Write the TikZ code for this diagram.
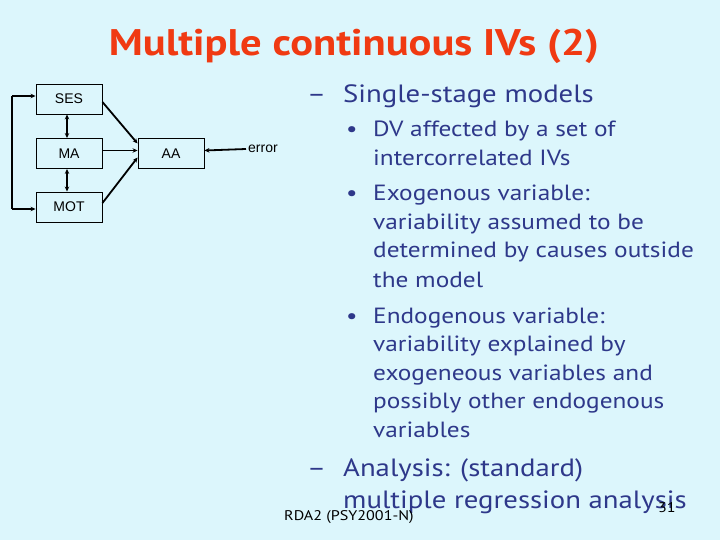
\documentclass[tikz,border=0pt]{standalone}
\usepackage{fontspec}
\setmainfont{PT Sans}[FakeStretch=1.15]
\newfontfamily\arialfont{Liberation Sans}
\usetikzlibrary{arrows.meta}
\definecolor{bgc}{RGB}{220,246,252}
\definecolor{bodyblue}{RGB}{46,56,138}
\definecolor{titlered}{RGB}{240,58,18}
\tikzset{
  varbox/.style={draw=black, line width=0.9pt, fill=bgc, minimum width=66pt, minimum height=30pt, inner sep=0pt, font=\arialfont\fontsize{14}{16}\selectfont},
  conn/.style={line width=1.8pt, -{Stealth[length=5pt,width=4.5pt]}},
  dconn/.style={line width=1.8pt, {Stealth[length=5pt,width=4.5pt]}-{Stealth[length=5pt,width=4.5pt]}},
  lvl1/.style={anchor=base west, inner sep=0pt, text=bodyblue, font=\fontsize{25}{30}\selectfont},
  lvl2/.style={anchor=base west, inner sep=0pt, text=bodyblue, font=\fontsize{22}{26}\selectfont},
  foot/.style={anchor=base west, inner sep=0pt, text=black, font=\fontsize{14}{17}\selectfont}
}
\begin{document}
\begin{tikzpicture}[x=1pt, y=-1pt]
\fill[bgc] (0,0) rectangle (720,540);
\useasboundingbox (0,0) rectangle (720,540);
% title
\node[anchor=base, inner sep=0pt, text=titlered, font=\bfseries\fontsize{37}{40}\selectfont] (title) at (354,56) {Multiple continuous IVs (2)};
% diagram
\node[varbox] (ses) at (69,99) {SES};
\node[varbox] (ma) at (69,153.5) {MA};
\node[varbox] (mot) at (69,207) {MOT};
\node[varbox] (aa) at (171,153.5) {AA};
\node[anchor=west, inner sep=0pt, font=\arialfont\fontsize{14}{16}\selectfont] (err) at (248,149) {error};
\coordinate (lt) at (12,96);
\coordinate (lb) at (12,209);
\draw[conn] (lt) -- (ses.west |- lt);
\draw[conn] (lb) -- (mot.west |- lb);
\draw[line width=1.8pt] (lt) -- (lb);
\draw[dconn] ([xshift=-2pt]ses.south) -- ([xshift=-2pt]ma.north);
\draw[dconn] ([xshift=-2pt]ma.south) -- ([xshift=-2pt]mot.north);
\draw[conn] ([yshift=-3pt]ses.east) -- ([yshift=10pt]aa.west);
\draw[conn] ([yshift=3pt]ma.east) -- ([yshift=3pt]aa.west);
\draw[conn] ([yshift=4pt]mot.east) -- ([yshift=-4pt]aa.west);
\draw[conn] ([xshift=-2pt]err.west) -- ([yshift=3pt]aa.east);
% text
\node[lvl1] (d1) at (307,103) {–};
\node[lvl1] (h1) at (343,103) {Single-stage models};
\node[lvl2] (b1) at (346,137) {•};
\node[lvl2] (t1) at (373,137) {DV affected by a set of};
\node[lvl2] (t2) at (373,166) {intercorrelated IVs};
\node[lvl2] (b2) at (346,201) {•};
\node[lvl2] (t3) at (373,201) {Exogenous variable:};
\node[lvl2] (t4) at (373,229.5) {variability assumed to be};
\node[lvl2] (t5) at (373,258) {determined by causes outside};
\node[lvl2] (t6) at (373,287) {the model};
\node[lvl2] (b3) at (346,323) {•};
\node[lvl2] (t7) at (373,323) {Endogenous variable:};
\node[lvl2] (t8) at (373,351.5) {variability explained by};
\node[lvl2] (t9) at (373,380) {exogeneous variables and};
\node[lvl2] (t10) at (373,408.5) {possibly other endogenous};
\node[lvl2] (t11) at (373,437) {variables};
\node[lvl1] (d2) at (307,476) {–};
\node[lvl1] (h2) at (343,476) {Analysis: (standard)};
\node[lvl1] (h3) at (343,508) {multiple regression analysis};
\node[foot] (f1) at (284,520) {RDA2 (PSY2001-N)};
\node[foot] (f2) at (658,512) {31};
\end{tikzpicture}
\end{document}
